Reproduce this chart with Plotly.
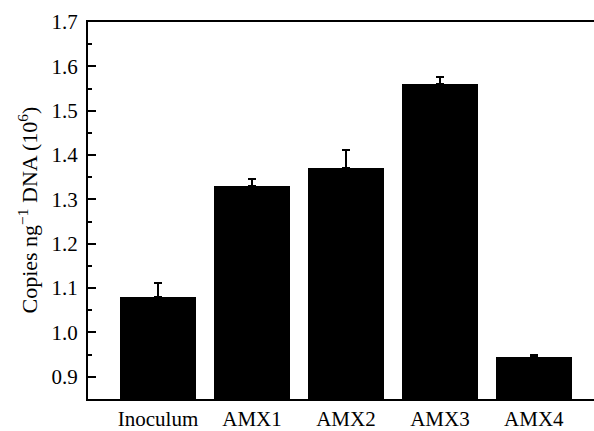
import plotly.graph_objects as go

categories = ["Inoculum", "AMX1", "AMX2", "AMX3", "AMX4"]
values = [1.08, 1.33, 1.37, 1.56, 0.945]
errors = [0.032, 0.017, 0.041, 0.015, 0.004]
y_ticks = [0.9, 1.0, 1.1, 1.2, 1.3, 1.4, 1.5, 1.6, 1.7]
y_tick_labels = ["0.9", "1.0", "1.1", "1.2", "1.3", "1.4", "1.5", "1.6", "1.7"]

xpos = list(range(len(categories)))

fig = go.Figure()
fig.add_trace(go.Bar(
    x=xpos, y=values, width=0.81,
    marker=dict(color="black", line=dict(width=0)),
    error_y=dict(type="data", array=errors, symmetric=False, arrayminus=[0]*5,
                 color="black", thickness=2, width=4),
))

font = "Liberation Serif, Times New Roman, serif"
fig.update_layout(
    width=594, height=431,
    margin=dict(l=88, r=0, t=22, b=29),
    paper_bgcolor="white", plot_bgcolor="white",
    showlegend=False,
    font=dict(family=font, size=21, color="black"),
    bargap=0,
)
fig.update_xaxes(
    range=[-0.745, 4.64],
    tickmode="array", tickvals=xpos, ticktext=categories,
    ticks="", showgrid=False, zeroline=False,
    showline=True, linecolor="black", linewidth=2, mirror=True,
    tickfont=dict(family=font, size=21, color="black"),
)
fig.update_yaxes(
    range=[0.85, 1.7],
    tickmode="array", tickvals=y_ticks, ticktext=y_tick_labels,
    ticks="inside", ticklen=8, tickwidth=2, tickcolor="black",
    minor=dict(ticks="inside", ticklen=4, tickwidth=2, tickcolor="black", dtick=0.05, showgrid=False),
    showgrid=False, zeroline=False,
    showline=True, linecolor="black", linewidth=2,
    tickfont=dict(family=font, size=21, color="black"),
    ticklabelstandoff=4,
)
fig.add_annotation(
    text="Copies ng<sup>−1</sup> DNA (10<sup>6</sup>)",
    xref="paper", yref="paper", x=0, y=0.5, xanchor="center", yanchor="middle",
    xshift=-61, textangle=-90, showarrow=False,
    font=dict(family=font, size=22, color="black"),
)
fig.write_html("out.html")
